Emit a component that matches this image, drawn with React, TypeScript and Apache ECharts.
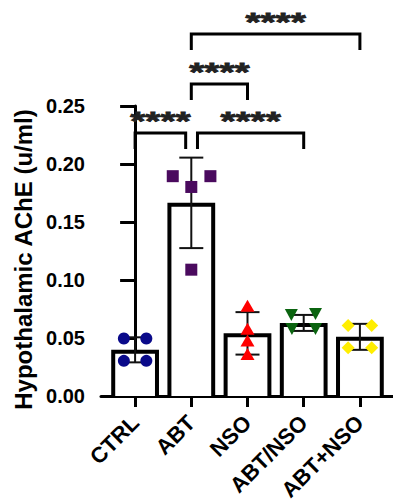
import React, { useEffect, useRef } from "react";
import * as echarts from "echarts";

const categories = ["CTRL", "ABT", "NSO", "ABT/NSO", "ABT+NSO"];
const means = [0.0398, 0.1665, 0.054, 0.063, 0.051];
const sds = [0.0108, 0.039, 0.0183, 0.0069, 0.0112];

const ctrlPoints = [0.0496, 0.0496, 0.0303, 0.0303];
const abtPoints = [0.1895, 0.1895, 0.1802, 0.1089];
const nsoPoints = [0.0778, 0.058, 0.0478, 0.0362];
const abtNsoPoints = [0.0698, 0.0707, 0.0578, 0.0578];
const abtPlusNsoPoints = [0.0608, 0.0608, 0.0416, 0.0416];

const ctrlJitter = [-0.2, 0.2, -0.2, 0.2];
const abtJitter = [-0.33, 0.34, 0, 0];
const nsoJitter = [0, 0, 0, 0];
const abtNsoJitter = [-0.22, 0.21, -0.21, 0.21];
const abtPlusNsoJitter = [-0.21, 0.21, -0.21, 0.21];

const yTicks = [0, 0.05, 0.1, 0.15, 0.2, 0.25];

const bracketFrom = [0, 1, 1, 1];
const bracketTo = [1, 3, 2, 4];
const bracketFromShift = [0, 0.11, 0, 0];
const bracketToShift = [-0.1, 0, 0, 0];
const bracketHeights = [0.2267, 0.2267, 0.269, 0.3121];
const bracketLabels = ["****", "****", "****", "****"];

const FONT = "'Liberation Sans', Arial, sans-serif";

export default function App() {
  const ref = useRef<HTMLDivElement>(null);
  useEffect(() => {
    document.body.style.margin = "0";
    if (!ref.current) return;
    const chart = echarts.init(ref.current, undefined, { renderer: "svg" });

    const pointSeries = (
      pts: number[],
      jit: number[],
      idx: number,
      symbol: string,
      size: any,
      color: string,
      rotate = 0
    ) => ({
      type: "scatter",
      xAxisIndex: 1,
      yAxisIndex: 0,
      symbol,
      symbolSize: size,
      symbolRotate: rotate,
      itemStyle: { color, opacity: 1 },
      z: 5,
      silent: true,
      data: pts.map((v, k) => [idx + jit[k], v]),
    });

    const option: any = {
      animation: false,
      grid: [
        { left: 107, right: 5, top: 106, bottom: 106, outerBoundsMode: "none", containLabel: false },
        { left: 101, right: 0, top: 106, bottom: 106, outerBoundsMode: "none", containLabel: false },
      ],
      xAxis: [
        {
          type: "category",
          gridIndex: 0,
          data: categories,
          axisLine: { show: false },
          axisTick: {
            show: true,
            alignWithLabel: true,
            length: 11,
            lineStyle: { color: "#000", width: 3 },
          },
          axisLabel: {
            rotate: 45,
            margin: 23,
            color: "#000",
            fontFamily: FONT,
            fontWeight: "bold",
            fontSize: 22,
          },
        },
        {
          type: "value",
          gridIndex: 0,
          min: -0.5,
          max: 4.5,
          show: false,
        },
        {
          type: "value",
          gridIndex: 1,
          min: 0,
          max: 1,
          axisLine: { show: true, onZero: false, lineStyle: { color: "#000", width: 3 } },
          axisTick: { show: false },
          axisLabel: { show: false },
          splitLine: { show: false },
        },
      ],
      yAxis: [
        {
          type: "value",
          gridIndex: 0,
          min: yTicks[0],
          max: yTicks[yTicks.length - 1],
          interval: 0.05,
          offset: 4,
          name: "Hypothalamic AChE (u/ml)",
          nameLocation: "middle",
          nameGap: 62,
          nameTextStyle: {
            color: "#000",
            fontFamily: FONT,
            fontWeight: "bold",
            fontSize: 24,
            padding: [0, 17, 0, 0],
          },
          axisLine: { show: true, lineStyle: { color: "#000", width: 3 } },
          axisTick: { show: true, length: 15, lineStyle: { color: "#000", width: 3 } },
          axisLabel: {
            margin: 18,
            color: "#000",
            fontFamily: FONT,
            fontWeight: "bold",
            fontSize: 20,
            formatter: (v: number) => v.toFixed(2),
          },
          splitLine: { show: false },
        },
        { type: "value", gridIndex: 1, min: 0, max: 1, show: false },
      ],
      series: [
        {
          type: "custom",
          xAxisIndex: 0,
          yAxisIndex: 0,
          z: 2,
          clip: false,
          silent: true,
          data: means.map((m, i) => [i, m]),
          renderItem: (params: any, api: any) => {
            const i = api.value(0);
            const v = api.value(1);
            const top = api.coord([i, v]);
            const base = api.coord([i, 0]);
            const bw = api.size([1, 0])[0] * 0.85;
            const lw = 4;
            const l = top[0] - bw / 2 + lw / 2;
            const r = top[0] + bw / 2 - lw / 2;
            const t = top[1] + lw / 2;
            return {
              type: "group",
              children: [
                {
                  type: "rect",
                  shape: { x: l, y: t, width: r - l, height: base[1] - t },
                  style: { fill: "#fff" },
                },
                {
                  type: "polyline",
                  shape: { points: [[l, base[1]], [l, t], [r, t], [r, base[1]]] },
                  style: { stroke: "#000", lineWidth: lw, fill: "none", lineJoin: "miter" },
                },
              ],
            };
          },
        },
        {
          type: "custom",
          xAxisIndex: 0,
          yAxisIndex: 0,
          z: 3,
          clip: false,
          silent: true,
          encode: { x: 0, y: [1, 2] },
          data: means.map((m, i) => [i, m - sds[i], m + sds[i]]),
          renderItem: (params: any, api: any) => {
            const i = api.value(0);
            const lo = api.coord([i, api.value(1)]);
            const hi = api.coord([i, api.value(2)]);
            const cap = 12;
            const st = { stroke: "#111", lineWidth: 2 };
            return {
              type: "group",
              children: [
                { type: "line", shape: { x1: lo[0], y1: lo[1], x2: hi[0], y2: hi[1] }, style: st },
                { type: "line", shape: { x1: lo[0] - cap, y1: lo[1], x2: lo[0] + cap, y2: lo[1] }, style: st },
                { type: "line", shape: { x1: hi[0] - cap, y1: hi[1], x2: hi[0] + cap, y2: hi[1] }, style: st },
              ],
            };
          },
        },
        pointSeries(ctrlPoints, ctrlJitter, 0, "circle", 12, "#0a0a8a"),
        pointSeries(abtPoints, abtJitter, 1, "rect", 12, "#4a0a5e"),
        pointSeries(nsoPoints, nsoJitter, 2, "triangle", [14, 12], "#ff0000"),
        pointSeries(abtNsoPoints, abtNsoJitter, 3, "triangle", [13, 12], "#0b6410", 180),
        pointSeries(abtPlusNsoPoints, abtPlusNsoJitter, 4, "diamond", 13, "#ffee00"),
        {
          type: "custom",
          xAxisIndex: 0,
          yAxisIndex: 0,
          z: 6,
          clip: false,
          silent: true,
          encode: { x: 0, y: 4 },
          data: bracketFrom.map((f, k) => [f, bracketTo[k], bracketFromShift[k], bracketToShift[k], bracketHeights[k]]),
          renderItem: (params: any, api: any) => {
            const band = api.size([1, 0])[0];
            const p1 = api.coord([api.value(0), api.value(4)]);
            const p2 = api.coord([api.value(1), api.value(4)]);
            const x1 = p1[0] + api.value(2) * band;
            const x2 = p2[0] + api.value(3) * band;
            const y = p1[1];
            const drop = 16;
            return {
              type: "group",
              children: [
                {
                  type: "polyline",
                  shape: { points: [[x1, y + drop], [x1, y], [x2, y], [x2, y + drop]] },
                  style: { stroke: "#000", lineWidth: 3, fill: "none", lineJoin: "miter" },
                },
                {
                  type: "text",
                  x: (x1 + x2) / 2,
                  y: y - 12,
                  scaleX: 1.55,
                  style: {
                    text: bracketLabels[params.dataIndex],
                    x: 0,
                    y: 0,
                    align: "center",
                    verticalAlign: "middle",
                    fill: "#222",
                    stroke: "#222",
                    lineWidth: 0.8,
                    font: "bold 25px 'Liberation Sans', Arial, sans-serif",
                  },
                },
              ],
            };
          },
        },
      ],
    };
    chart.setOption(option);
    return () => chart.dispose();
  }, []);
  return (
    <div
      ref={ref}
      style={{ width: 393, height: 502, position: "absolute", left: 0, top: 0 }}
    />
  );
}
